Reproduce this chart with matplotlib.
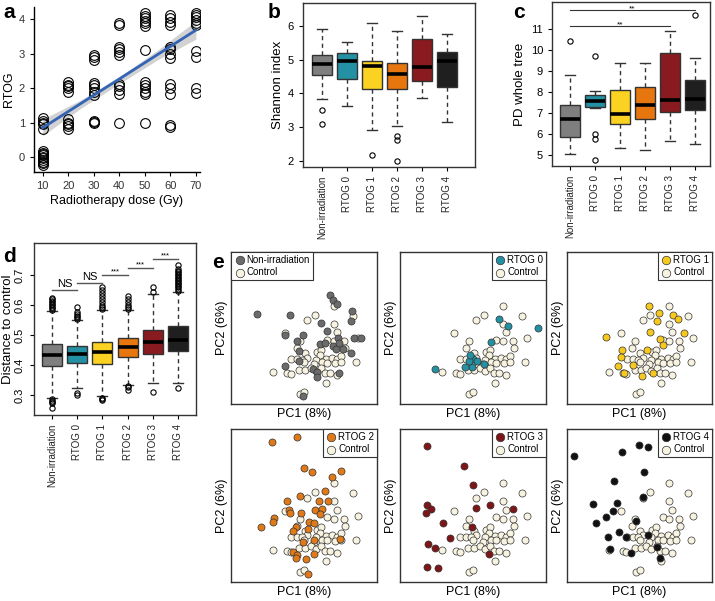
import numpy as np
import matplotlib
matplotlib.use('Agg')
import matplotlib.pyplot as plt

plt.rcParams['font.family'] = ['Liberation Sans', 'DejaVu Sans']

W, H = 715, 601

groups = ['Non-irradiation', 'RTOG 0', 'RTOG 1', 'RTOG 2', 'RTOG 3', 'RTOG 4']
box_colors = ['#7f7f7f', '#2391a3', '#fbd221', '#e8760f', '#891a1f', '#1f1f1f']

# ---- panel a : RTOG vs dose (points read per dose level)
a_points = {
    10: [-0.22, -0.15, -0.08, -0.02, 0.05, 0.12, 0.18, -0.18, 0.0, 0.08,
         0.82, 0.95, 1.05, 1.12, 1.0],
    20: [1.9, 2.0, 2.1, 2.18, 2.05, 0.82, 0.9, 1.0, 1.1, 0.95],
    30: [2.82, 2.9, 2.97, 1.8, 1.9, 2.0, 2.1, 2.15, 1.0, 1.03, 1.05],
    40: [3.82, 3.9, 2.95, 3.05, 3.12, 3.18, 1.82, 1.95, 2.05, 2.12, 1.0],
    50: [3.8, 3.88, 3.95, 4.02, 4.1, 4.18, 3.1, 1.82, 1.88, 2.0, 2.1, 2.18, 1.0],
    60: [3.82, 3.92, 4.02, 4.12, 2.88, 3.0, 3.12, 3.2, 1.82, 2.0, 2.12, 0.88, 0.92],
    70: [3.82, 3.9, 3.98, 4.05, 4.12, 4.18, 2.9, 3.08, 1.85, 2.0],
}
fit_x = [10, 70]
fit_y = [0.85, 3.68]
ci_x = [10, 25, 40, 55, 70]
ci_lo = [0.62, 1.42, 2.13, 2.82, 3.42]
ci_hi = [1.10, 1.66, 2.33, 3.10, 3.95]

# ---- panel b : Shannon index
sh_lo = [3.84, 3.62, 2.92, 3.04, 3.86, 3.15]
sh_q1 = [4.55, 4.43, 4.13, 4.12, 4.38, 4.18]
sh_med = [4.87, 4.95, 4.80, 4.57, 4.78, 4.96]
sh_q3 = [5.14, 5.20, 4.95, 4.90, 5.60, 5.22]
sh_hi = [5.90, 5.53, 6.10, 5.85, 6.30, 5.75]
sh_out = [[3.5, 3.1], [], [2.18], [2.73, 2.62, 2.01], [], []]

# ---- panel c : PD whole tree
pd_lo = [5.03, 7.25, 5.35, 5.25, 5.67, 5.52]
pd_q1 = [5.87, 7.28, 6.47, 6.70, 7.07, 7.16]
pd_med = [6.70, 7.55, 6.94, 7.37, 7.64, 7.67]
pd_q3 = [7.40, 7.84, 8.08, 8.25, 9.88, 8.56]
pd_hi = [8.80, 8.03, 9.40, 9.40, 10.92, 9.62]
pd_out = [[10.45], [9.7, 6.0, 5.75, 4.74], [], [], [], [11.7]]

# ---- panel d : distance to control
dc_lo = [0.290, 0.323, 0.298, 0.334, 0.340, 0.340]
dc_q1 = [0.398, 0.407, 0.404, 0.427, 0.438, 0.448]
dc_med = [0.433, 0.438, 0.442, 0.460, 0.476, 0.484]
dc_q3 = [0.471, 0.464, 0.476, 0.490, 0.518, 0.529]
dc_hi = [0.580, 0.550, 0.583, 0.583, 0.637, 0.644]
dc_out = [
    [0.585, 0.59, 0.595, 0.60, 0.605, 0.61, 0.615, 0.62, 0.625, 0.285, 0.28, 0.276, 0.272, 0.255],
    [0.555, 0.56, 0.565, 0.57, 0.578, 0.595, 0.305, 0.300],
    [0.588, 0.595, 0.60, 0.61, 0.62, 0.63, 0.64, 0.65, 0.66, 0.29, 0.286, 0.283],
    [0.588, 0.595, 0.60, 0.61, 0.62, 0.63, 0.33, 0.325, 0.318],
    [0.645, 0.66, 0.31],
    [0.648, 0.655, 0.66, 0.665, 0.67, 0.675, 0.68, 0.685, 0.69, 0.695, 0.70,
     0.705, 0.71, 0.715, 0.72, 0.735, 0.323],
]
d_sig_labels = ['NS', 'NS', '***', '***', '***']
d_sig_y = [0.650, 0.675, 0.700, 0.725, 0.755]

# ---- panel e : PCoA scores (PC1, PC2)
ctrl_pc1 = [0.120, 0.043, 0.195, 0.013, 0.120, -0.075, 0.216, 0.131, -0.017, 0.160,
            0.093, 0.120, -0.029, 0.164, 0.003, 0.051, 0.067, -0.051, -0.028, 0.013,
            0.063, 0.087, 0.113, 0.133, 0.147, 0.047, -0.007, 0.000, 0.073, 0.093,
            0.123, 0.149, 0.040, 0.207, -0.123, -0.067, -0.020, 0.005, 0.028, 0.047,
            0.069, 0.083, 0.104, 0.131, -0.053, 0.087, -0.016, 0.001]
ctrl_pc2 = [0.090, 0.054, 0.050, 0.031, 0.018, -0.021, -0.041, -0.017, -0.054, -0.054,
            -0.047, -0.053, -0.082, -0.081, -0.102, -0.098, -0.087, -0.125, -0.125, -0.119,
            -0.109, -0.123, -0.119, -0.125, -0.111, -0.127, -0.127, -0.138, -0.138, -0.139,
            -0.141, -0.138, -0.145, -0.138, -0.178, -0.182, -0.171, -0.170, -0.161, -0.175,
            -0.162, -0.182, -0.183, -0.190, -0.185, -0.222, -0.267, -0.258]

non_pc1 = [-0.189, -0.056, 0.068, 0.104, 0.115, 0.131, 0.191, 0.187, -0.003, -0.076,
           0.093, 0.064, 0.084, 0.117, 0.128, 0.137, 0.157, 0.140, 0.200, 0.227,
           0.187, -0.020, -0.019, -0.076, 0.035, 0.051, 0.053, 0.141, -0.005, -0.028]
non_pc2 = [0.055, 0.054, 0.021, 0.131, 0.114, 0.098, 0.067, 0.027, -0.030, -0.030,
           -0.013, -0.066, -0.059, -0.073, -0.086, -0.039, -0.086, -0.059, -0.039, -0.039,
           -0.102, -0.093, -0.133, -0.155, -0.166, -0.179, -0.199, -0.182, -0.275, -0.054]
r0_pc1 = [0.105, 0.139, 0.261, 0.071, 0.044, 0.001, -0.005, -0.032, -0.015, -0.152, 0.015, -0.012]
r0_pc2 = [0.037, 0.010, 0.001, -0.057, -0.146, -0.126, -0.159, -0.159, -0.133, -0.166, -0.133, -0.110]
r1_pc1 = [0.037, 0.077, 0.071, 0.133, 0.156, -0.136, 0.044, 0.084, 0.093, 0.180,
          -0.071, -0.073, 0.031, -0.087, -0.027, -0.064, 0.011, 0.053]
r1_pc2 = [0.087, 0.061, 0.030, 0.054, 0.038, -0.037, -0.015, -0.043, -0.070, -0.022,
          -0.089, -0.115, -0.089, -0.153, -0.150, -0.183, -0.193, -0.183]
r2_pc1 = [-0.127, -0.029, 0.001, 0.031, 0.111, 0.148, 0.084, -0.016, 0.060, 0.097,
          -0.069, -0.059, -0.013, 0.044, 0.071, 0.064, -0.056, -0.120, -0.125, -0.172,
          0.021, 0.041, -0.032, -0.045, 0.017, -0.003, 0.041, 0.144, -0.043, -0.027,
          -0.032, 0.008, 0.041, 0.017]
r2_pc2 = [0.255, 0.275, 0.149, 0.133, 0.113, 0.139, 0.059, 0.038, 0.019, 0.018,
          0.018, -0.018, -0.031, -0.018, -0.015, -0.034, -0.031, -0.051, -0.067, -0.085,
          -0.067, -0.071, -0.087, -0.101, -0.095, -0.145, -0.138, -0.135, -0.185, -0.198,
          -0.211, -0.215, -0.194, -0.275]
r3_pc1 = [-0.185, -0.035, 0.101, 0.001, -0.185, -0.169, -0.188, 0.012, 0.068, 0.161,
          -0.119, -0.005, -0.092, -0.179, -0.152, 0.065, -0.185, -0.141]
r3_pc2 = [0.238, 0.159, 0.278, 0.082, 0.002, -0.015, -0.029, -0.011, 0.002, -0.015,
          -0.069, -0.087, -0.131, -0.154, -0.171, -0.194, -0.245, -0.251]
r4_pc1 = [-0.263, -0.071, -0.003, 0.036, 0.020, -0.103, 0.013, -0.187, -0.089, -0.107,
          -0.136, -0.176, -0.013, -0.083, -0.127, -0.053, 0.033, -0.117, -0.033, 0.069, 0.083]
r4_pc2 = [0.198, 0.215, 0.242, 0.233, 0.135, 0.099, 0.033, 0.005, 0.009, -0.021,
          -0.045, -0.071, -0.061, -0.105, -0.125, -0.125, -0.118, -0.175, -0.191, -0.167, -0.211]

e_groups = [(non_pc1, non_pc2), (r0_pc1, r0_pc2), (r1_pc1, r1_pc2),
            (r2_pc1, r2_pc2), (r3_pc1, r3_pc2), (r4_pc1, r4_pc2)]
e_colors = ['#6b6b6b', '#2391a3', '#f7c81e', '#e07a18', '#7e1518', '#111111']
ctrl_color = '#f8f3e1'

fig = plt.figure(figsize=(W / 100, H / 100), dpi=100)


def add_px(x0, y0, x1, y1):
    return fig.add_axes([x0 / W, 1 - y1 / H, (x1 - x0) / W, (y1 - y0) / H])


def frame(ax):
    for s in ax.spines.values():
        s.set_linewidth(1.0)
        s.set_color('#333333')


def boxes(ax, lo, q1, med, q3, hi, out):
    stats = [dict(whislo=lo[i], q1=q1[i], med=med[i], q3=q3[i], whishi=hi[i],
                  fliers=out[i]) for i in range(len(lo))]
    bp = ax.bxp(stats, positions=range(1, 7), widths=0.8, patch_artist=True,
                capwidths=0.4, manage_ticks=False,
                boxprops=dict(edgecolor='#333333', linewidth=1.0),
                medianprops=dict(color='black', linewidth=2.6, solid_capstyle='butt'),
                whiskerprops=dict(color='#333333', linewidth=1.0, linestyle=(0, (3, 2.5))),
                capprops=dict(color='#333333', linewidth=1.0),
                flierprops=dict(marker='o', mfc='none', mec='black', ms=3.8, mew=0.8))
    for patch, c in zip(bp['boxes'], box_colors):
        patch.set_facecolor(c)
    ax.set_xticks(range(1, 7))
    ax.set_xticklabels(groups, rotation=90, fontsize=7, color='#222222')
    ax.tick_params(length=3, width=0.8, labelsize=8)
    ax.tick_params(axis='x', labelsize=7)
    frame(ax)


# ---------------- a
ax = add_px(34, 7, 200, 172)
for d, vals in a_points.items():
    ax.plot([d] * len(vals), vals, 'o', mfc='none', mec='black', ms=7, mew=0.8)
ax.fill_between(ci_x, ci_lo, ci_hi, color='#b5b5b5', alpha=0.6, lw=0)
ax.plot(fit_x, fit_y, color='#3464b4', lw=2)
ax.set_xlim(6.6, 71.6)
ax.set_ylim(-0.43, 4.35)
ax.set_xticks(range(10, 71, 10))
ax.set_yticks(range(5))
ax.spines['top'].set_visible(False)
ax.spines['right'].set_visible(False)
for s in ('left', 'bottom'):
    ax.spines[s].set_linewidth(1.0)
ax.tick_params(length=3, width=0.8, labelsize=8, labelcolor='#333333')
ax.set_xlabel('Radiotherapy dose (Gy)', fontsize=9, labelpad=3)
ax.set_ylabel('RTOG', fontsize=9, labelpad=3)

# ---------------- b
ax = add_px(303, 3, 475, 167)
boxes(ax, sh_lo, sh_q1, sh_med, sh_q3, sh_hi, sh_out)
ax.set_xlim(0.24, 7.13)
ax.set_ylim(1.82, 6.68)
ax.set_yticks(range(2, 7))
ax.set_ylabel('Shannon index', fontsize=9.5, labelpad=3)

# ---------------- c
ax = add_px(552, 2, 710, 166)
boxes(ax, pd_lo, pd_q1, pd_med, pd_q3, pd_hi, pd_out)
ax.set_xlim(0.29, 6.6)
ax.set_ylim(4.47, 12.3)
ax.set_yticks(range(5, 12))
ax.set_ylabel('PD whole tree', fontsize=9.5, labelpad=3)
ax.plot([1, 6], [11.92, 11.92], color='#333333', lw=0.8)
ax.text(3.5, 11.98, '**', ha='center', va='center', fontsize=6)
ax.plot([1, 5], [11.16, 11.16], color='#333333', lw=0.8)
ax.text(3.0, 11.22, '**', ha='center', va='center', fontsize=6)

# ---------------- d
ax = add_px(34, 243, 196, 415)
boxes(ax, dc_lo, dc_q1, dc_med, dc_q3, dc_hi, dc_out)
ax.set_xlim(0.27, 6.73)
ax.set_ylim(0.233, 0.807)
ax.set_yticks([0.3, 0.4, 0.5, 0.6, 0.7])
plt.setp(ax.get_yticklabels(), rotation=90, va='center')
ax.set_ylabel('Distance to control', fontsize=9.5, labelpad=1)
for i, (lab, y) in enumerate(zip(d_sig_labels, d_sig_y)):
    ax.plot([i + 1, i + 2], [y, y], color='#555555', lw=1.0)
    if lab == 'NS':
        ax.text(i + 1.5, y + 0.003, lab, ha='center', va='bottom', fontsize=8)
    else:
        ax.text(i + 1.5, y + 0.010, lab, ha='center', va='center', fontsize=5.5)

# ---------------- e
cols = [(231, 377), (400, 546), (567, 712)]
rows = [(252, 404), (429, 582)]
for k, ((gx, gy), col, lab) in enumerate(zip(e_groups, e_colors, groups)):
    x0, x1 = cols[k % 3]
    y0, y1 = rows[k // 3]
    ax = add_px(x0, y0, x1, y1)
    hc = ax.scatter(ctrl_pc1, ctrl_pc2, s=26, facecolor=ctrl_color, edgecolor='#333333',
                    linewidth=0.5, zorder=2)
    hg = ax.scatter(gx, gy, s=26, facecolor=col, edgecolor='#333333', linewidth=0.5,
                    zorder=3)
    ax.set_xlim(-0.292, 0.292)
    ax.set_ylim(-0.306, 0.306)
    ax.set_xticks([])
    ax.set_yticks([])
    frame(ax)
    ax.set_xlabel('PC1 (8%)', fontsize=9, labelpad=3)
    ax.set_ylabel('PC2 (6%)', fontsize=9, labelpad=2)
    leg = ax.legend([hg, hc], [lab, 'Control'], loc='upper left' if k == 0 else 'upper right',
                    borderaxespad=0, fontsize=7, frameon=True, fancybox=False,
                    edgecolor='#333333', framealpha=1, handletextpad=0.1,
                    handlelength=1.2, borderpad=0.3, labelspacing=0.25, markerscale=1.2)
    leg.get_frame().set_linewidth(0.8)

# panel letters
for t, x, y in [('a', 3, 12), ('b', 268, 12), ('c', 513, 12), ('d', 3, 256), ('e', 212, 262)]:
    fig.text(x / W, 1 - y / H, t, fontsize=15, fontweight='bold', va='center', ha='left')

fig.savefig('out.png', dpi=100)
